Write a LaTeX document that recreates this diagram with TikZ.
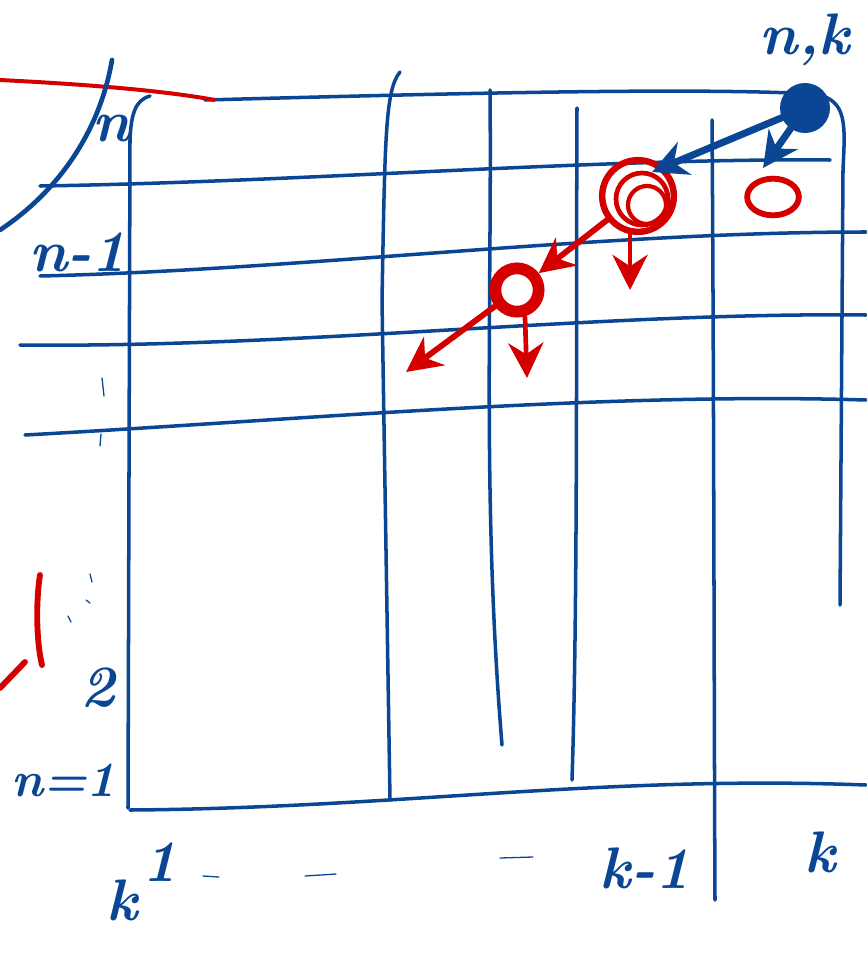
\documentclass[tikz,border=0pt]{standalone}
\usepackage{fontspec}
\usepackage{tikz}
\usetikzlibrary{arrows.meta,positioning,shapes.geometric}
\definecolor{inkblue}{RGB}{10,70,148}
\definecolor{inkred}{RGB}{212,0,0}

\begin{document}
\begin{tikzpicture}[
    x=0.03cm, y=-0.03cm,
    grid/.style={inkblue, line width=3pt, line cap=round},
    faint/.style={inkblue, line width=1.1pt, line cap=round},
    lbl/.style={inkblue, font=\fontsize{50}{50}\selectfont\bfseries\itshape},
    redcell/.style={circle, draw=inkred, line width=5.5pt, inner sep=0pt},
    arrow/.style={-{Stealth[length=30pt,width=30pt]}, line width=5pt, line cap=round}
]
\useasboundingbox (0,0) rectangle (866,955);

% grid, rows
\draw[grid] (150,96) .. controls (135,100) and (131,115) .. (130,140) -- (128,808);
\draw[grid] (205,100) .. controls (500,92) and (700,88) .. (815,94)
            .. controls (848,100) and (845,125) .. (843,170) -- (840,605);
\draw[grid] (40,186) .. controls (300,182) and (600,158) .. (830,160);
\draw[grid] (40,276) .. controls (300,270) and (600,232) .. (866,232);
\draw[grid] (20,345) .. controls (300,348) and (600,312) .. (866,315);
\draw[grid] (25,435) .. controls (300,420) and (600,392) .. (866,400);
\draw[grid] (130,810) .. controls (400,808) and (600,775) .. (866,785);
% grid, columns
\draw[grid] (400,72) .. controls (385,90) and (385,140) .. (382,300) -- (390,800);
\draw[grid] (490,90) .. controls (492,300) and (482,500) .. (502,745);
\draw[grid] (577,108) .. controls (576,300) and (578,600) .. (572,780);
\draw[grid] (712,120) .. controls (714,400) and (714,700) .. (715,900);

% stray strokes
\draw[inkred, line width=3.4pt] (0,80) .. controls (80,84) and (160,90) .. (215,100);
\draw[grid, line width=4pt] (0,230) .. controls (60,190) and (100,130) .. (112,60);
\draw[inkred, line width=5pt, line cap=round] (40,575) .. controls (36,600) and (36,640) .. (42,665);
\draw[inkred, line width=5pt, line cap=round] (0,688) -- (25,662);
\draw[faint] (102,378) -- (104,396);
\draw[faint] (101,434) -- (100,446);
\draw[faint] (90,574) -- (92,582);
\draw[faint] (86,600) -- (90,603);
\draw[faint] (68,616) -- (71,622);
\draw[faint] (203,876) -- (219,877);
\draw[faint] (305,876) -- (336,874);
\draw[faint] (500,858) -- (533,857);

% cells
\node[circle, fill=inkblue, minimum size=1.5cm, inner sep=0pt] (nk) at (805,108) {};
\node[redcell, minimum size=2.15cm] (up) at (638,196) {};
\draw[inkred, line width=4pt] (642,199) circle (26);
\draw[inkred, line width=3.6pt] (647,205) circle (19);
\node[ellipse, draw=inkred, line width=5pt, minimum width=1.55cm, minimum height=1.1cm, inner sep=0pt] (side) at (773,197) {};
\node[redcell, minimum size=1.3cm, line width=10pt] (mid) at (517,290) {};

\coordinate (nkleft) at (652,172);
\coordinate (nkdown) at (763,168);
\coordinate (updown) at (630,290);
\coordinate (middown) at (527,378);
\coordinate (far) at (406,372);

\draw[arrow, inkblue, line width=6pt] (nk) -- (nkleft);
\draw[arrow, inkblue, line width=6pt] (nk) -- (nkdown);
\draw[arrow, inkred] (up) -- (mid);
\draw[arrow, inkred] (mid) -- (far);
\draw[arrow, inkred, line width=4pt] (up.south) ++(-8,0) -- (updown);
\draw[arrow, inkred, line width=4pt] (mid.south) ++(8,0) -- (middown);

% labels
\node[lbl] (lnk) at (805,40) {n,k};
\node[lbl] (ln) at (112,128) {n};
\node[lbl] (lnm) at (78,252) {n-1};
\node[lbl] (ltwo) at (98,688) {2};
\node[lbl, anchor=east, inner sep=0pt, font=\fontsize{42}{42}\selectfont\bfseries\itshape] (lnone) at (116,780) {n=1};
\node[lbl] (lk) at (122,900) {k};
\node[lbl] (lone) at (160,862) {1};
\node[lbl] (lkm) at (645,868) {k-1};
\node[lbl] (lkk) at (820,852) {k};
\end{tikzpicture}
\end{document}
